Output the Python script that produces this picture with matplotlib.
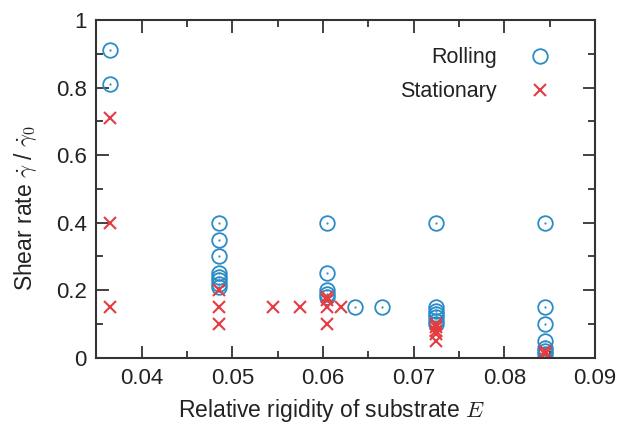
import matplotlib
matplotlib.use("Agg")
import matplotlib.pyplot as plt
from matplotlib.ticker import MultipleLocator

plt.rcParams["font.family"] = "Liberation Sans"
plt.rcParams["mathtext.fontset"] = "cm"

# Rolling cells
rolling_x = [0.0365, 0.0365,
             0.0485, 0.0485, 0.0485, 0.0485, 0.0485, 0.0485, 0.0485, 0.0485,
             0.0605, 0.0605, 0.0605, 0.0605, 0.0605,
             0.0635, 0.0665,
             0.0725, 0.0725, 0.0725, 0.0725, 0.0725, 0.0725, 0.0725,
             0.0845, 0.0845, 0.0845, 0.0845, 0.0845, 0.0845, 0.0845]
rolling_y = [0.91, 0.81,
             0.40, 0.35, 0.30, 0.25, 0.24, 0.23, 0.22, 0.21,
             0.40, 0.25, 0.20, 0.19, 0.18,
             0.15, 0.15,
             0.40, 0.15, 0.14, 0.13, 0.12, 0.11, 0.10,
             0.40, 0.15, 0.10, 0.05, 0.03, 0.02, 0.01]

# Stationary cells
stationary_x = [0.0365, 0.0365, 0.0365,
                0.0485, 0.0485, 0.0485,
                0.0545, 0.0575,
                0.0605, 0.0605, 0.0605, 0.0605,
                0.0620,
                0.0725, 0.0725, 0.0725, 0.0725, 0.0725,
                0.0845, 0.0845]
stationary_y = [0.71, 0.40, 0.15,
                0.20, 0.15, 0.10,
                0.15, 0.15,
                0.18, 0.17, 0.15, 0.10,
                0.15,
                0.10, 0.09, 0.08, 0.07, 0.05,
                0.02, 0.01]

blue = "#2a8cc6"
red = "#e63b40"

fig = plt.figure(figsize=(6.21, 4.26), dpi=100)
ax = fig.add_axes([0.155, 0.16, 0.803, 0.793])

ax.plot(rolling_x, rolling_y, "o", ms=10.5, mfc="none", mec=blue, mew=1.3,
        linestyle="none", label="Rolling")
ax.plot(rolling_x, rolling_y, ".", ms=1.2, color=blue, linestyle="none")
ax.plot(stationary_x, stationary_y, "x", ms=8.5, color=red, mew=1.5,
        linestyle="none", label="Stationary")

ax.set_xlim(0.035, 0.09)
ax.set_ylim(0, 1)
ax.xaxis.set_minor_locator(MultipleLocator(0.005))
ax.yaxis.set_minor_locator(MultipleLocator(0.1))
ax.set_xticks([0.04, 0.05, 0.06, 0.07, 0.08, 0.09])
ax.set_xticklabels(["0.04", "0.05", "0.06", "0.07", "0.08", "0.09"])
ax.set_yticks([0, 0.2, 0.4, 0.6, 0.8, 1.0])
ax.set_yticklabels(["0", "0.2", "0.4", "0.6", "0.8", "1"])
ax.tick_params(which="both", direction="in", top=True, right=True,
               labelsize=16, color="#333333", labelcolor="#222222", pad=7)
ax.tick_params(which="major", length=9, width=1.3)
ax.tick_params(which="minor", length=5, width=1.3)
for s in ax.spines.values():
    s.set_linewidth(1.5)
    s.set_color("#333333")

ax.set_xlabel("Relative rigidity of substrate $E$", fontsize=16.5, color="#222222")
ax.set_ylabel(r"Shear rate $\dot{\gamma}$ / $\dot{\gamma}_0$", fontsize=16.5,
              color="#222222")
ax.xaxis.set_label_coords(0.471, -0.115)
ax.yaxis.set_label_coords(-0.115, 0.445)

leg = ax.legend(loc="upper right", bbox_to_anchor=(0.95, 0.945), frameon=False,
                markerfirst=False, fontsize=15.5, handletextpad=1.0,
                borderaxespad=0, labelspacing=0.6)
for t in leg.get_texts():
    t.set_color("#222222")

fig.savefig("out.png", dpi=100)
